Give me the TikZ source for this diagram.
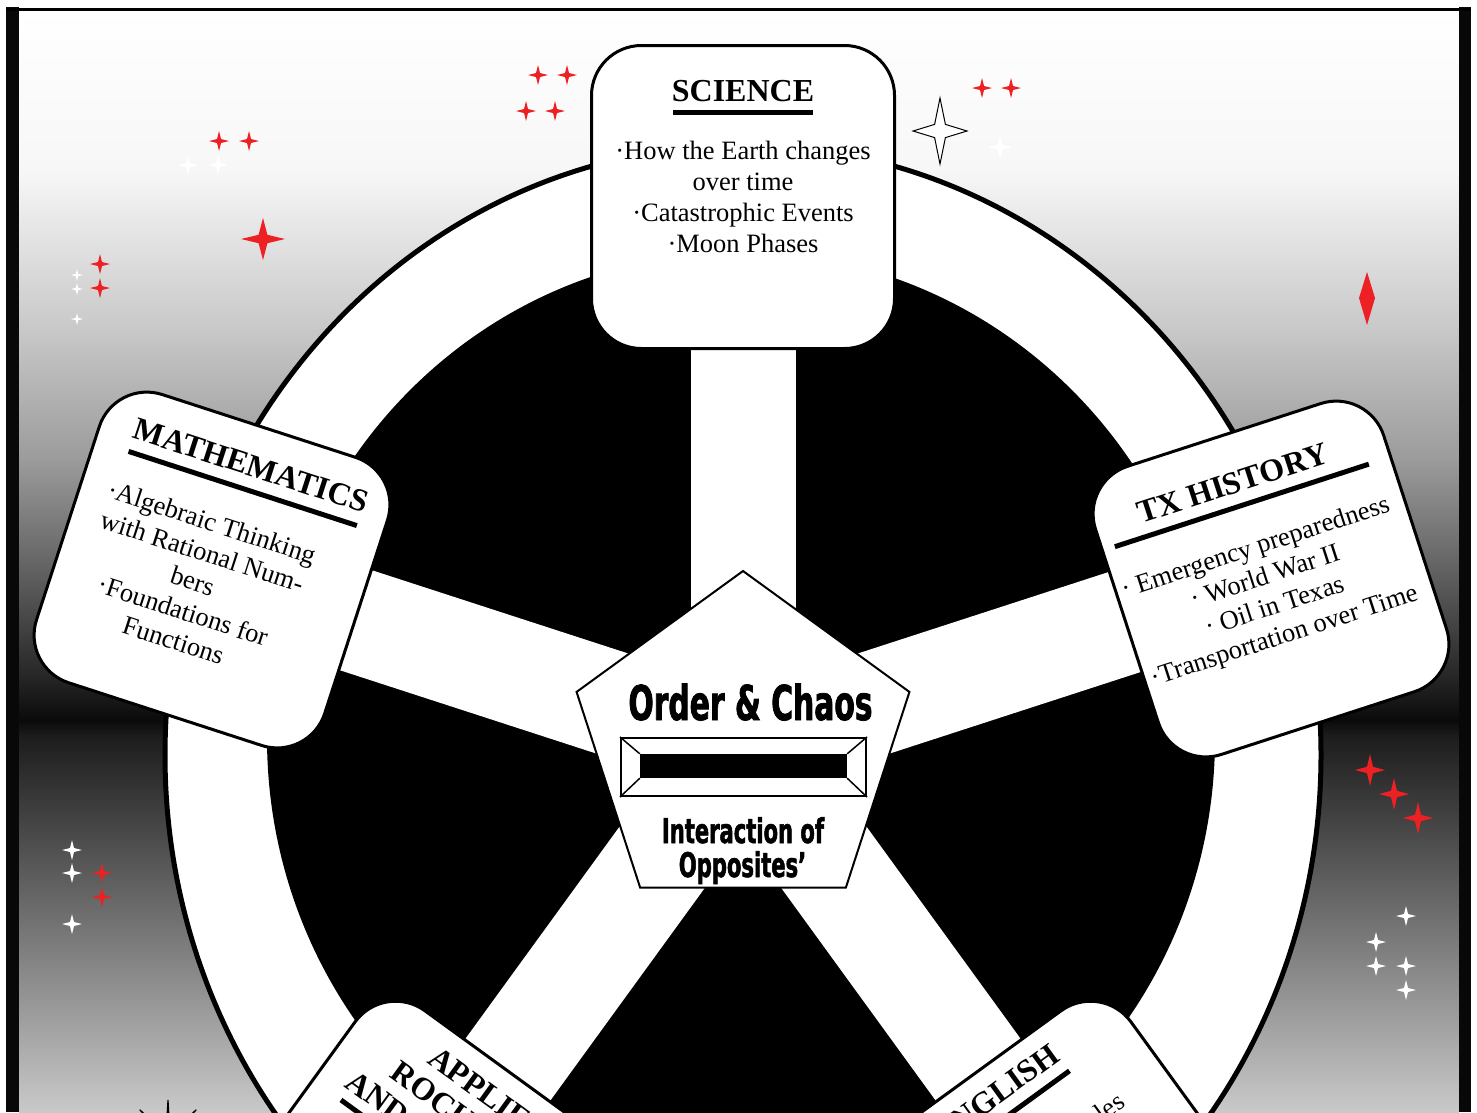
\documentclass[tikz,border=0pt]{standalone}
\usepackage{fontspec}
\setmainfont{Liberation Serif}
\newfontfamily\impactfont{DejaVu Sans}[FakeStretch=0.62,FakeBold=1.5]
\usetikzlibrary{shapes.geometric}
\definecolor{starred}{RGB}{237,32,36}
\definecolor{bgA}{RGB}{247,247,248}
\definecolor{bgB}{RGB}{200,200,200}
\definecolor{bgC}{RGB}{155,155,155}
\definecolor{bgD}{RGB}{92,92,92}
\definecolor{bgE}{RGB}{36,36,36}
\definecolor{bgF}{RGB}{10,10,10}
\definecolor{bgG}{RGB}{28,28,28}
\definecolor{bgH}{RGB}{201,201,201}
\newcommand{\spark}[5]{\path[#1] (#2,#3) +(0,-#5) -- +(0.2*#4,-0.2*#5) -- +(#4,0) -- +(0.2*#4,0.2*#5) -- +(0,#5) -- +(-0.2*#4,0.2*#5) -- +(-#4,0) -- +(-0.2*#4,-0.2*#5) -- cycle;}
\tikzset{
  subjbox/.style={draw=black, fill=white, line width=3pt, rounded corners=50pt, minimum width=303pt, minimum height=303pt, inner sep=0pt},
  subjtitle/.style={font=\bfseries\fontsize{32}{34}\selectfont, inner sep=0pt, align=center},
  subjbody/.style={font=\fontsize{26.5}{31}\selectfont, inner sep=0pt, align=center},
  spoke/.style={white, line width=105pt},
  redstar/.style={fill=starred},
  whitestar/.style={fill=white},
  ctext/.style={inner sep=0pt}
}
\begin{document}
\begin{tikzpicture}[x=1pt,y=-1pt]
\useasboundingbox (0,0) rectangle (1477,1112);
\clip (0,0) rectangle (1477,1112);
\fill[white] (0,0) rectangle (1477,1112);
% background gradient
\shade[top color=white, bottom color=bgA] (19,8) rectangle (1459,170.5);
\shade[top color=bgA, bottom color=bgB] (19,170) rectangle (1459,330.5);
\shade[top color=bgB, bottom color=bgC] (19,330) rectangle (1459,460.5);
\shade[top color=bgC, bottom color=bgD] (19,460) rectangle (1459,580.5);
\shade[top color=bgD, bottom color=bgE] (19,580) rectangle (1459,680.5);
\shade[top color=bgE, bottom color=bgF] (19,680) rectangle (1459,720.5);
\shade[top color=bgF, bottom color=bgG] (19,720) rectangle (1459,735.5);
\shade[top color=bgG, bottom color=bgH] (19,735) rectangle (1459,1112);
% frame
\fill[black!97] (6,7) rectangle (19,1112);
\fill[black!97] (1459,7) rectangle (1471,1112);
\fill[black] (6,8) rectangle (1471,11);
% stars
\spark{redstar}{219}{141}{10}{10}
\spark{redstar}{249}{141}{10}{10}
\spark{whitestar}{188}{165}{10}{10}
\spark{whitestar}{218}{165}{10}{10}
\spark{redstar}{263}{239}{22}{21}
\spark{redstar}{100}{264}{10}{10}
\spark{redstar}{100}{288}{10}{10}
\spark{whitestar}{77}{275}{6}{6}
\spark{whitestar}{77}{289}{6}{6}
\spark{whitestar}{77}{319}{6}{6}
\spark{redstar}{538}{75}{10}{10}
\spark{redstar}{567}{75}{10}{10}
\spark{redstar}{526}{111}{10}{10}
\spark{redstar}{555}{111}{10}{10}
\spark{redstar}{982}{88}{10}{10}
\spark{redstar}{1011}{88}{10}{10}
\spark{whitestar}{1000}{147}{12}{12}
\spark{draw=black,fill=white,line width=1pt}{940}{131}{27}{33}
\fill[starred] (1367,272) -- (1375,298) -- (1367,325) -- (1359,298) -- cycle;
\spark{redstar}{1370}{770}{15}{16}
\spark{redstar}{1394}{794}{15}{16}
\spark{redstar}{1418}{818}{15}{16}
\spark{whitestar}{1406}{916}{10}{10}
\spark{whitestar}{1376}{942}{10}{10}
\spark{whitestar}{1376}{966}{10}{10}
\spark{whitestar}{1406}{966}{10}{10}
\spark{whitestar}{1406}{990}{10}{10}
\spark{whitestar}{72}{850}{10}{10}
\spark{whitestar}{72}{873}{10}{10}
\spark{whitestar}{72}{924}{10}{10}
\spark{redstar}{102}{873}{10}{10}
\spark{redstar}{102}{897}{10}{10}
\draw[line width=1.2pt] (168,1138) +(-90:38) -- +(-67.5:5) -- +(-45:40) -- +(-22.5:5) -- +(0:35) -- +(22.5:5) -- +(45:40) -- +(67.5:5) -- +(90:35) -- +(112.5:5) -- +(135:40) -- +(157.5:5) -- +(180:35) -- +(202.5:5) -- +(225:40) -- +(247.5:5) -- cycle;
% wheel
\draw[line width=5pt, fill=white] (743,755) ellipse [x radius=578pt, y radius=610pt];
\fill[black] (741,738) ellipse [x radius=474pt, y radius=486pt];
\coordinate (hub) at (743,746);
\draw[spoke] (hub) -- ++(-90:520);
\draw[spoke] (hub) -- ++(-162:520);
\draw[spoke] (hub) -- ++(-18:520);
\draw[spoke] (hub) -- ++(126:520);
\draw[spoke] (hub) -- ++(54:520);
% SCIENCE
\begin{scope}[shift={(743,197)}]
  \node[subjbox] (sci) at (0,0) {};
  \node[subjtitle, anchor=base] (scit) at (0,-96) {SCIENCE};
  \fill (-70,-87.5) rectangle (70,-82.5);
  \node[subjbody, anchor=north] (scib) at (0,-56) {·How the Earth changes\\over time\\·Catastrophic Events\\·Moon Phases};
\end{scope}
% MATHEMATICS
\begin{scope}[shift={(212,570)}, rotate=-18, transform shape]
  \node[subjbox] (math) at (0,0) {};
  \node[subjtitle, anchor=base] (matht) at (5,-101) {MATHEMATICS};
  \fill (-116,-89.5) rectangle (124,-84.5);
  \node[subjbody, anchor=north] (mathb) at (-15,-55) {·Algebraic Thinking\\with Rational Num-\\bers\\·Foundations for\\Functions};
\end{scope}
% TX HISTORY
\begin{scope}[shift={(1271,579)}, rotate=18, transform shape]
  \node[subjbox] (tx) at (0,0) {};
  \node[subjtitle, anchor=base] (txt) at (-7,-92.5) {TX HISTORY};
  \fill (-138.5,-81.5) rectangle (128.5,-76.5);
  \node[subjbody, anchor=north] (txb) at (-5,-46) {· Emergency preparedness\\· World War II\\· Oil in Texas\\·Transportation over Time};
\end{scope}
% APPLIED ROCKETRY
\begin{scope}[shift={(418,1193)}, rotate=-36, transform shape]
  \node[subjbox] (rock) at (0,0) {};
  \node[subjtitle, anchor=north] (rockt) at (0,-132) {APPLIED\\ROCKETRY\\AND ROBOTICS};
  \fill (-117,-32.5) rectangle (117,-27.5);
\end{scope}
% ENGLISH
\begin{scope}[shift={(1068,1193)}, rotate=36, transform shape]
  \node[subjbox] (eng) at (0,0) {};
  \node[subjtitle, anchor=base] (engt) at (0,-112) {ENGLISH};
  \fill (-73,-100.5) rectangle (73,-95.5);
  \node[subjbody, anchor=north] (engb) at (0,-55) {·Myths and Fables};
\end{scope}
% center pentagon
\node[regular polygon, regular polygon sides=5, minimum size=350pt, inner sep=0pt, draw=black, line width=2pt, fill=white] (pent) at (743,746) {};
\node[ctext, anchor=base, font=\impactfont\bfseries\fontsize{48}{48}\selectfont] (oc) at (750.5,720) {Order \& Chaos};
\node[draw=black, line width=2pt, fill=white, minimum width=245pt, minimum height=58pt, inner sep=0pt] (bar) at (743.5,767) {};
\node[fill=black, minimum width=207pt, minimum height=24pt, inner sep=0pt] (barin) at (743.5,766) {};
\draw[line width=1.5pt] (bar.north west) -- (barin.north west);
\draw[line width=1.5pt] (bar.north east) -- (barin.north east);
\draw[line width=1.5pt] (bar.south west) -- (barin.south west);
\draw[line width=1.5pt] (bar.south east) -- (barin.south east);
\node[ctext, anchor=base, font=\impactfont\bfseries\fontsize{34}{36}\selectfont] (int1) at (743,843) {Interaction of};
\node[ctext, anchor=base, font=\impactfont\bfseries\fontsize{34}{36}\selectfont] (int2) at (742.5,877) {Opposites’};
\end{tikzpicture}
\end{document}
